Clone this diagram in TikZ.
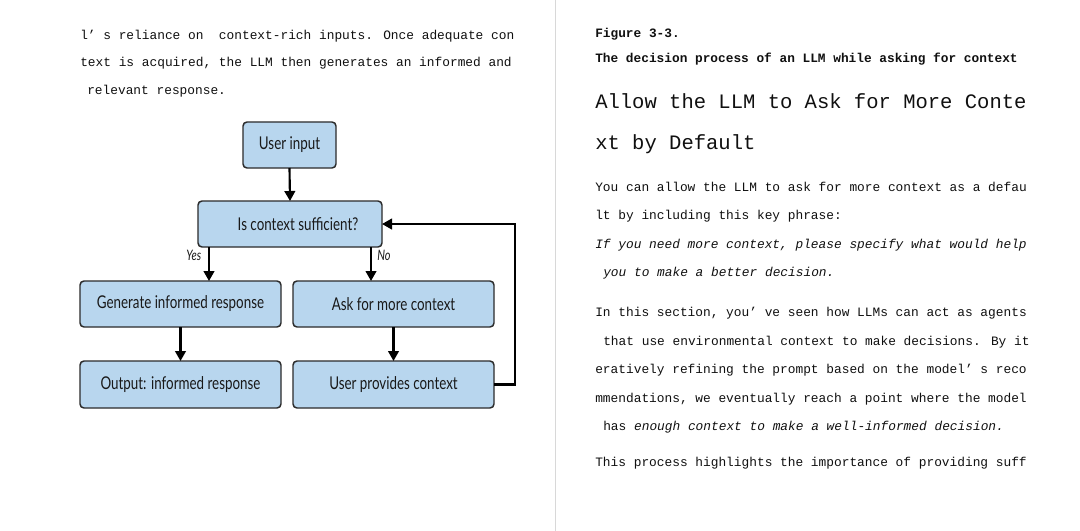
\documentclass[tikz,border=0pt]{standalone}
\usepackage{fontspec}
\usetikzlibrary{arrows.meta}
\newfontfamily\monof{Liberation Mono}
\newfontfamily\boxf[FakeStretch=0.76]{Lato}
\definecolor{boxblue}{HTML}{B8D6EE}
\definecolor{boxline}{HTML}{2B2B2B}
\definecolor{txt}{HTML}{101010}
\definecolor{sep}{HTML}{D8D8D8}
\begin{document}
\begin{tikzpicture}[x=0.75pt,y=-0.75pt,
  body/.style={anchor=mid west, inner sep=0pt, text=txt, font=\monof\fontsize{9.63}{11}\selectfont},
  bodyit/.style={body, font=\monof\itshape\fontsize{9.63}{11}\selectfont},
  capt/.style={body, font=\monof\bfseries\fontsize{9.6}{11}\selectfont},
  headg/.style={body, font=\monof\fontsize{15.4}{18}\selectfont},
  flowbox/.style={draw=boxline, fill=boxblue, line width=1.1pt, rounded corners=3pt,
    inner sep=0pt, outer sep=0pt, minimum height=34.5pt, text=black!90,
    font=\boxf\fontsize{13.2}{15}\selectfont},
  arr/.style={draw=black, line width=1.6pt, -{Triangle[width=8pt,length=7.5pt]}},
  lab/.style={inner sep=0pt, text=black!90, font=\boxf\itshape\fontsize{10.8}{12}\selectfont}
]
\useasboundingbox (0,0) rectangle (1080,531);
\fill[white] (0,0) rectangle (1080,531);
\draw[sep, line width=0.8pt] (555.5,0) -- (555.5,531);

% left column text
\node[body] (l1) at (80,37) {l’ s reliance on\ \ context-rich inputs. Once adequate con};
\node[body] (l2) at (80,63.5) {text is acquired, the LLM then generates an informed and};
\node[body] (l3) at (87,91.5) {relevant response.};

% flowchart
\node[flowbox, minimum width=69.75pt] (ui) at (289.5,145) {User input};
\node[flowbox, minimum width=138pt] (ic) at (290,224) {\hspace{12pt}Is context sufficient?};
\node[flowbox, minimum width=150.75pt] (gen) at (180.5,304) {Generate informed response};
\node[flowbox, minimum width=150.75pt] (ask) at (393.5,304) {Ask for more context};
\node[flowbox, minimum width=150.75pt, minimum height=35.25pt] (out) at (180.5,384.5) {Output: informed response};
\node[flowbox, minimum width=150.75pt, minimum height=35.25pt] (up) at (393.5,384.5) {User provides context};

\coordinate (yesx) at ([xshift=8.25pt]ic.south west);
\coordinate (nox) at ([xshift=-8.25pt]ic.south east);
\draw[arr] (ui.south) -- (ic.north);
\draw[arr] (yesx) -- (yesx |- gen.north);
\draw[arr] (nox) -- (nox |- ask.north);
\draw[arr] (gen.south) -- (out.north);
\draw[arr] (ask.south) -- (up.north);
\draw[arr] (up.east) -- ++(21,0) |- (ic.east);
\node[lab, anchor=mid east] (yes) at (201.5,257.5) {Yes};
\node[lab, anchor=mid west] (no) at (377,257.5) {No};

% right column text
\node[capt] (r1) at (595,35) {Figure 3-3.};
\node[capt] (r2) at (595,60) {The decision process of an LLM while asking for context};
\node[headg] (h1) at (595,106) {Allow the LLM to Ask for More Conte};
\node[headg] (h2) at (595,146.5) {xt by Default};
\node[body] (p1) at (595,188.3) {You can allow the LLM to ask for more context as a defau};
\node[body] (p2) at (595,216.7) {lt by including this key phrase:};
\node[bodyit] (p3) at (595,245.7) {If you need more context, please specify what would help};
\node[bodyit] (p4) at (603,274) {you to make a better decision.};
\node[body] (q1) at (595,314) {In this section, you’ ve seen how LLMs can act as agents};
\node[body] (q2) at (603,342.3) {that use environmental context to make decisions. By it};
\node[body] (q3) at (595,370.7) {eratively refining the prompt based on the model’ s reco};
\node[body] (q4) at (595,399.3) {mmendations, we eventually reach a point where the model};
\node[body] (q5) at (603,427.3) {has \textit{enough context to make a well-informed decision.}};
\node[body] (q6) at (595,463.3) {This process highlights the importance of providing suff};
\end{tikzpicture}
\end{document}
